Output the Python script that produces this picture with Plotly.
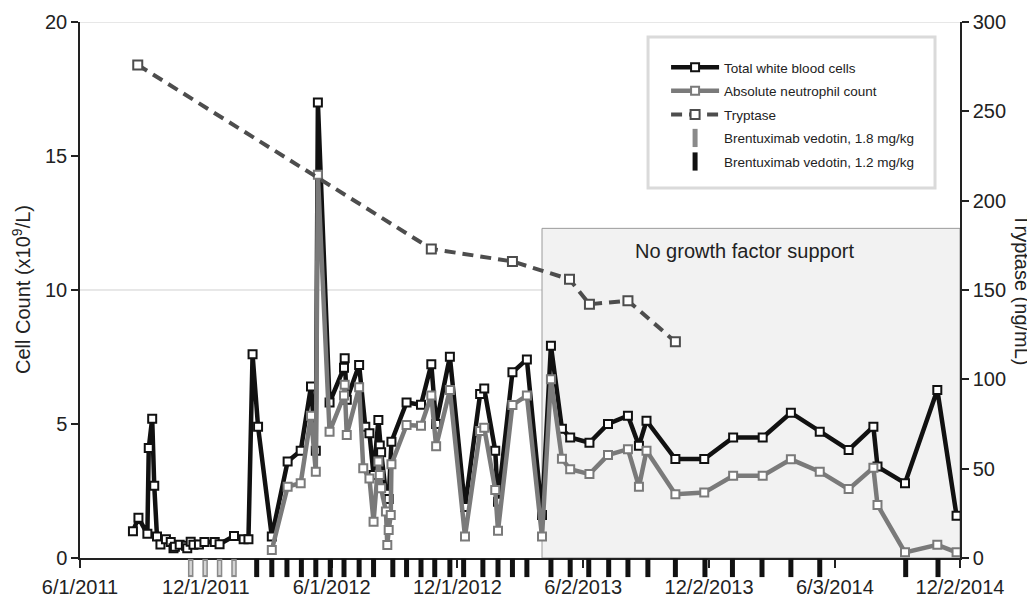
import plotly.graph_objects as go

# ---------------- data ----------------
wbc_dates = [
    "2011-08-17", "2011-08-25", "2011-09-07", "2011-09-09", "2011-09-14", "2011-09-17",
    "2011-09-21", "2011-09-26", "2011-10-04", "2011-10-11", "2011-10-15", "2011-10-17",
    "2011-10-24", "2011-11-02", "2011-11-04", "2011-11-09", "2011-11-13", "2011-11-21",
    "2011-11-29", "2011-12-14", "2011-12-21", "2012-01-11", "2012-01-25", "2012-02-01",
    "2012-02-07", "2012-02-15", "2012-03-06", "2012-03-29", "2012-04-17", "2012-05-02",
    "2012-05-09", "2012-05-12", "2012-05-29", "2012-06-19", "2012-06-20", "2012-06-23",
    "2012-07-11", "2012-07-20", "2012-07-26", "2012-08-01", "2012-08-08", "2012-08-10",
    "2012-08-12", "2012-08-19", "2012-08-23", "2012-08-27",
    "2012-09-18", "2012-10-09", "2012-10-24", "2012-10-31", "2012-11-20", "2012-12-12",
    "2013-01-03", "2013-01-09", "2013-01-25", "2013-01-29", "2013-02-19", "2013-03-12",
    "2013-04-03", "2013-04-16", "2013-05-02", "2013-05-14", "2013-06-11", "2013-07-08",
    "2013-08-06", "2013-08-22", "2013-09-02", "2013-10-14", "2013-11-25", "2014-01-06",
    "2014-02-18", "2014-03-31", "2014-05-12", "2014-06-23", "2014-07-29", "2014-08-04",
    "2014-09-13", "2014-10-30", "2014-11-27",
]
wbc_values = [
    1.0, 1.5, 0.9, 4.1, 5.2, 2.7,
    0.8, 0.5, 0.7, 0.6, 0.36, 0.42,
    0.49, 0.46, 0.36, 0.61, 0.49, 0.5,
    0.6, 0.6, 0.51, 0.82, 0.7, 0.7,
    7.6, 4.9, 0.8, 3.6, 4.0, 6.4,
    4.0, 17.0, 5.8, 7.1, 7.45, 5.9,
    7.2, 4.9, 4.65, 3.1, 5.15, 4.2,
    3.95, 2.4, 2.2, 4.34,
    5.8, 5.72, 7.23, 5.0, 7.51, 1.9,
    6.12, 6.32, 4.0, 2.1, 6.93, 7.41,
    1.6, 7.92, 4.82, 4.5, 4.3, 5.0,
    5.31, 4.19, 5.12, 3.69, 3.69, 4.5,
    4.5, 5.42, 4.71, 4.03, 4.9, 3.41,
    2.79, 6.27, 1.58,
]

anc_dates = [
    "2012-03-06", "2012-03-29", "2012-04-17", "2012-05-02", "2012-05-09", "2012-05-12",
    "2012-05-29", "2012-06-19", "2012-06-20", "2012-06-23", "2012-07-11", "2012-07-17",
    "2012-07-26", "2012-08-01", "2012-08-08", "2012-08-10", "2012-08-12", "2012-08-19",
    "2012-08-21", "2012-08-23", "2012-08-26", "2012-08-27",
    "2012-09-18", "2012-10-09", "2012-10-24", "2012-10-31", "2012-11-20", "2012-12-12",
    "2013-01-03", "2013-01-09", "2013-01-25", "2013-01-29", "2013-02-19", "2013-03-12",
    "2013-04-03", "2013-04-16", "2013-05-02", "2013-05-14", "2013-06-11", "2013-07-08",
    "2013-08-06", "2013-08-22", "2013-09-02", "2013-10-14", "2013-11-25", "2014-01-06",
    "2014-02-18", "2014-03-31", "2014-05-12", "2014-06-23", "2014-07-29", "2014-08-04",
    "2014-09-13", "2014-10-30", "2014-11-27",
]
anc_values = [
    0.3, 2.66, 2.79, 5.31, 3.22, 14.3,
    4.71, 6.06, 6.46, 4.59, 6.37, 3.35,
    2.97, 1.35, 3.6, 3.1, 2.6, 1.73,
    0.48, 1.04, 1.6, 3.5,
    4.96, 4.93, 6.06, 4.17, 6.27, 0.8,
    4.74, 4.86, 2.54, 1.02, 5.71, 6.06,
    0.8, 6.67, 3.7, 3.31, 3.13, 3.84,
    4.06, 2.66, 4.0, 2.38, 2.44, 3.07,
    3.07, 3.68, 3.22, 2.57, 3.37, 1.98,
    0.21, 0.49, 0.21,
]

tryptase_dates = ["2011-08-24", "2012-10-24", "2013-02-19", "2013-05-13",
                  "2013-06-11", "2013-08-06", "2013-10-14"]
tryptase_values = [276, 173, 166, 156, 142, 144, 121]

dose18_dates = ["2011-11-09", "2011-11-30", "2011-12-21", "2012-01-11"]
dose12_dates = [
    "2012-02-13", "2012-03-06", "2012-03-28", "2012-04-18", "2012-05-09", "2012-05-30",
    "2012-06-19", "2012-07-11", "2012-08-01", "2012-08-29", "2012-09-18", "2012-10-09",
    "2012-10-29", "2012-11-20", "2012-12-10", "2013-01-07", "2013-01-29", "2013-02-19",
    "2013-03-12", "2013-04-16", "2013-05-14", "2013-06-10", "2013-07-09", "2013-08-06",
    "2013-09-04", "2013-10-14", "2013-11-26", "2014-01-05", "2014-02-17", "2014-03-31",
    "2014-05-12", "2014-09-14", "2014-10-31",
]

x_tick_dates = ["2011-06-01", "2011-12-01", "2012-06-01", "2012-12-01",
                "2013-06-02", "2013-12-02", "2014-06-03", "2014-12-02"]
x_tick_labels = ["6/1/2011", "12/1/2011", "6/1/2012", "12/1/2012",
                 "6/2/2013", "12/2/2013", "6/3/2014", "12/2/2014"]

no_gf_start = "2013-04-03"
no_gf_end = "2014-12-02"
no_gf_top = 12.3

FONT = "Liberation Sans, Arial, sans-serif"
TXT = "#222222"

fig = go.Figure()

fig.add_trace(go.Scatter(
    x=wbc_dates, y=wbc_values, mode="lines+markers", name="Total white blood cells",
    legendgroup="wbc",
    line=dict(color="#111111", width=4.5),
    marker=dict(symbol="square", size=8, color="white", line=dict(color="#111111", width=2)),
))
fig.add_trace(go.Scatter(
    x=anc_dates, y=anc_values, mode="lines+markers", name="Absolute neutrophil count",
    legendgroup="anc",
    line=dict(color="#7a7a7a", width=4.5),
    marker=dict(symbol="square", size=8, color="white", line=dict(color="#7a7a7a", width=2)),
))
fig.add_trace(go.Scatter(
    x=tryptase_dates, y=tryptase_values, mode="lines+markers", name="Tryptase",
    legendgroup="tryp", yaxis="y2",
    line=dict(color="#4d4d4d", width=4, dash="11px,7px"),
    marker=dict(symbol="square", size=9, color="white", line=dict(color="#4d4d4d", width=2)),
))
fig.add_trace(go.Scatter(
    x=dose18_dates, y=[0.5] * len(dose18_dates), mode="markers", yaxis="y3",
    name="Brentuximab vedotin, 1.8 mg/kg", legendgroup="d18",
    marker=dict(symbol="line-ns", size=13, color="#8a8a8a", line=dict(color="#8a8a8a", width=5.5)),
))
fig.add_trace(go.Scatter(
    x=dose18_dates, y=[0.5] * len(dose18_dates), mode="markers", yaxis="y3",
    showlegend=False, legendgroup="d18", hoverinfo="skip",
    marker=dict(symbol="line-ns", size=10, color="#d4d4d4", line=dict(color="#d4d4d4", width=2.5)),
))
fig.add_trace(go.Scatter(
    x=dose12_dates, y=[0.5] * len(dose12_dates), mode="markers", yaxis="y3",
    name="Brentuximab vedotin, 1.2 mg/kg", legendgroup="d12",
    marker=dict(symbol="line-ns", size=13, color="#111111", line=dict(color="#111111", width=5)),
))

shapes = [
    dict(type="rect", xref="x", yref="y", x0=no_gf_start, x1=no_gf_end, y0=0, y1=no_gf_top,
         fillcolor="#f2f2f2", line=dict(color="#9a9a9a", width=1), layer="below"),
    dict(type="line", xref="paper", yref="y", x0=0, x1=1, y0=10, y1=10,
         line=dict(color="#d0d0d0", width=1), layer="below"),
    dict(type="line", xref="paper", yref="y", x0=0, x1=1, y0=20, y1=20,
         line=dict(color="#d0d0d0", width=1), layer="below"),
    dict(type="rect", xref="paper", yref="paper", x0=0.6455, x1=0.9716, y0=0.7014, y1=0.973,
         fillcolor="white", line=dict(color="#dadada", width=3), layer="below"),
]

annotations = [
    dict(text="Cell Count (x10<sup>9</sup>/L)", xref="paper", yref="y domain", x=0, y=0.5,
         xshift=-58, textangle=-90, showarrow=False, font=dict(size=20, color=TXT, family=FONT),
         xanchor="center", yanchor="middle"),
    dict(text="Tryptase (ng/mL)", xref="paper", yref="y domain", x=1, y=0.5,
         xshift=62, textangle=90, showarrow=False, font=dict(size=20, color=TXT, family=FONT),
         xanchor="center", yanchor="middle"),
    dict(text="No growth factor support", xref="x", yref="y", x="2014-01-23", y=11.46,
         showarrow=False, font=dict(size=20, color=TXT, family=FONT),
         xanchor="center", yanchor="middle"),
]

fig.update_layout(
    width=1027, height=590,
    margin=dict(l=72, r=75, t=14, b=20, autoexpand=False),
    paper_bgcolor="white", plot_bgcolor="white",
    font=dict(family=FONT, color=TXT, size=20),
    showlegend=True,
    legend=dict(x=0.6660, y=0.946, xanchor="left", yanchor="top",
                bgcolor="rgba(0,0,0,0)", borderwidth=0,
                font=dict(size=13.5, color=TXT, family=FONT),
                itemwidth=48, tracegroupgap=3, traceorder="grouped"),
    xaxis=dict(type="date", range=["2011-06-01", "2014-12-02"], anchor="y",
               tickmode="array", tickvals=x_tick_dates, ticktext=x_tick_labels,
               showgrid=False, zeroline=False, showline=True, linecolor=TXT, linewidth=1.5,
               ticks="outside", ticklen=8, tickcolor=TXT, tickwidth=1.5,
               tickfont=dict(size=20, color=TXT), ticklabelstandoff=2),
    yaxis=dict(domain=[0.036, 1], range=[0, 20], tickvals=[0, 5, 10, 15, 20],
               showgrid=False, zeroline=False,
               showline=True, linecolor=TXT, linewidth=1.5, ticks="outside", ticklen=7,
               tickcolor=TXT, tickwidth=1.5, tickfont=dict(size=20, color=TXT)),
    yaxis2=dict(range=[0, 300], tickvals=[0, 50, 100, 150, 200, 250, 300], overlaying="y",
                side="right", anchor="x", showgrid=False, zeroline=False, showline=True,
                linecolor=TXT, linewidth=1.5, ticks="outside", ticklen=7, tickcolor=TXT,
                tickwidth=1.5, tickfont=dict(size=20, color=TXT)),
    yaxis3=dict(domain=[0, 0.036], range=[0, 1], visible=False, anchor="x",
                fixedrange=True),
    shapes=shapes,
    annotations=annotations,
)

fig.write_html("out.html")
